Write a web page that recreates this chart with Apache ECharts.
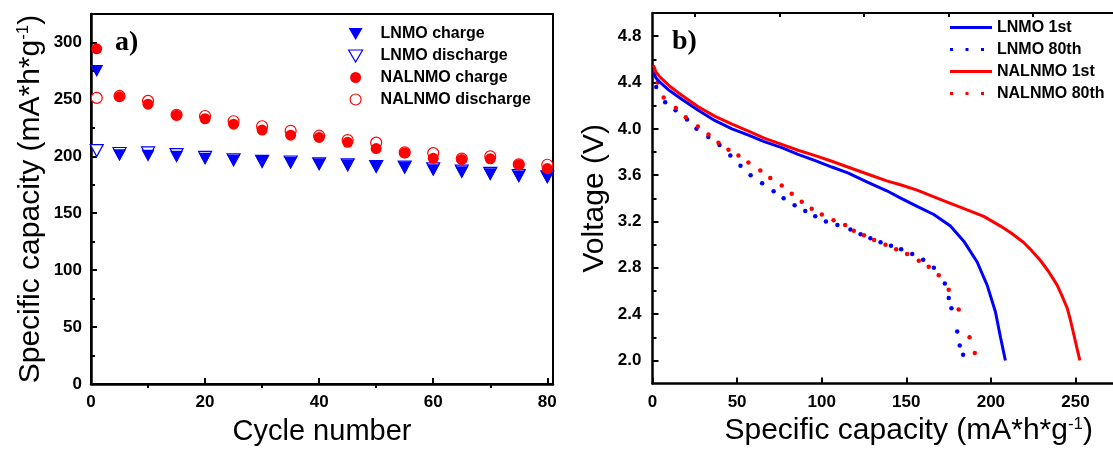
<!DOCTYPE html>
<html>
<head>
<meta charset="utf-8">
<script src="https://cdn.jsdelivr.net/npm/echarts@6/dist/echarts.min.js"></script>
<style>
html,body{margin:0;padding:0;background:#fff;}
#c{width:1113px;height:451px;}
</style>
</head>
<body>
<div id="c"></div>
<script>
// ---------- Panel a) cycling data ----------
const cycles = [1,5,10,15,20,25,30,35,40,45,50,55,60,65,70,75,80];
const lnmoCharge = [275,201,200.5,199.6,197.8,196.4,195,194.4,193,192,190.6,190,187.8,186,184.3,182.2,181.4];
const lnmoDischarge = [205,202.5,203,201.5,199,197,195.5,195,193.5,192.5,191,190.5,189,187,185,183,182];
const nalnmoCharge = [294.4,252.4,245.8,236,233,228.2,223,218.6,216.6,212.3,206.8,203,198.2,197.3,197.8,192.6,189.2];
const nalnmoDischarge = [251.3,253,248.7,236.5,235.4,230.8,226.4,222.4,218.1,214.3,212,203.5,202.8,198,200,193,192.6];

// ---------- Panel b) discharge curves ----------
const lnmo1Cap = [0.6,2,4.5,10,17.3,27,37,47,56.7,66,76.4,86,96.2,106,115.8,127,138.5,147,156.4,166.3,176.1,184,191.9,197.8,202.7,205.7,208.6];
const lnmo1V = [4.49,4.44,4.40,4.33,4.256,4.16,4.07,4.0,3.946,3.89,3.838,3.78,3.725,3.67,3.617,3.54,3.465,3.40,3.33,3.26,3.16,3.03,2.85,2.65,2.42,2.20,2.0];
const lnmo80Cap = [2.2,7.5,13.6,20.4,26,33,39.6,46,52,58,64.8,71.6,77.5,84,90.3,96.2,102.5,109.3,117,123,128.8,134.8,141,147,153.5,160,166.3,172.8,175.1,176.7,180.1,181.6,183.6];
const lnmo80V = [4.36,4.23,4.16,4.08,4.0,3.93,3.86,3.77,3.68,3.6,3.53,3.46,3.40,3.34,3.29,3.244,3.20,3.17,3.13,3.09,3.055,3.02,2.99,2.96,2.92,2.87,2.80,2.665,2.54,2.45,2.25,2.13,2.05];
const nalnmo1Cap = [0.6,2,4.5,10,17.3,27,37,47,56.7,66,76.4,86,96.2,106,115.8,127,138.5,147,156.4,166,176.1,186,195.8,205.7,212,219.4,224,229.3,234,239.2,242,245.1,247,249,251,252.6];
const nalnmo1V = [4.55,4.49,4.446,4.37,4.29,4.19,4.107,4.04,3.98,3.92,3.866,3.815,3.768,3.72,3.668,3.61,3.55,3.515,3.471,3.415,3.357,3.30,3.244,3.16,3.10,3.018,2.95,2.863,2.77,2.65,2.56,2.453,2.35,2.226,2.10,2.0];
const nalnmo80Cap = [3,6.6,13.8,19.7,26.8,33.1,39,44.9,50.8,56.7,63.7,69.6,76.4,82.3,88.2,94.1,100.1,107,113.9,119,125,131,137.7,144,150.5,157.4,163.3,169.2,175.1,181,187.4,190.5];
const nalnmo80V = [4.40,4.27,4.18,4.10,4.02,3.95,3.88,3.82,3.77,3.71,3.64,3.575,3.51,3.44,3.37,3.31,3.26,3.21,3.17,3.12,3.08,3.04,3.0,2.96,2.92,2.86,2.81,2.735,2.61,2.44,2.20,2.065];

// ---------- Tick values ----------
const aXMajor = [0,20,40,60,80];
const aXMinor = [10,30,50,70];
const aYMajor = [0,50,100,150,200,250,300];
const aYMinor = [25,75,125,175,225,275];
const bXMajor = [0,50,100,150,200,250];
const bXMinor = [25,75,125,175,225];
const bYMajor = [2.0,2.4,2.8,3.2,3.6,4.0,4.4,4.8];
const bYMinor = [2.2,2.6,3.0,3.4,3.8,4.2,4.6];

const zip = (xs, ys) => xs.map((x, i) => [x, ys[i]]);

const FONT = '"Liberation Sans", Arial, sans-serif';
const BLUE = '#0000ff', RED = '#ff0000';
const tickLabel = {fontFamily: FONT, fontWeight: 'bold', fontSize: 17, color: '#000'};
function nameStyle(size, extra) {
  return Object.assign({fontFamily: FONT, fontSize: size, color: '#000',
    rich: {sup: {fontFamily: FONT, fontSize: 17, color: '#000', padding: [0, 0, 14, 0]}}}, extra || {});
}
const lineSt = {color: '#000', width: 2.5};

function mainAxis(o) {
  return Object.assign({
    type: 'value', splitLine: {show: false},
    axisLine: {show: true, onZero: false, lineStyle: lineSt},
    axisTick: {show: true, inside: true, length: 6, lineStyle: {color: '#000', width: 2}, customValues: o.major},
    axisLabel: {show: true, customValues: o.major, margin: o.margin, formatter: o.fmt, ...tickLabel},
    nameLocation: 'middle'
  }, o.extra);
}
function minorAxis(o) {
  return Object.assign({
    type: 'value', splitLine: {show: false},
    axisLine: {show: false},
    axisTick: {show: true, inside: true, length: 4, lineStyle: {color: '#000', width: 2}, customValues: o.minor},
    axisLabel: {show: false}
  }, o.extra);
}

const chart = echarts.init(document.getElementById('c'), null, {renderer: 'canvas'});

const triDown = 'path://M0,0 M40,14 M13,1.5h14l-7,12z';
const circ = 'path://M0,0 M40,14 M25.5,7a5.5,5.5 0 1,0 -11,0a5.5,5.5 0 1,0 11,0z';
const solidIcon = 'path://M0,0 M42,14 M0,5.5h42v3h-42z';
const dotIcon = 'path://M0,0 M42,14 M0,5.5h3v3h-3z M15.5,5.5h3v3h-3z M31,5.5h3v3h-3z';

const B_MAX = 272.2;

chart.setOption({
  animation: false,
  backgroundColor: '#fff',
  grid: [
    {left: 91, top: 14, width: 462, height: 375, show: true, borderColor: '#000', borderWidth: 2, backgroundColor: 'transparent'},
    {left: 652.5, top: 13, width: 460.5, height: 377, show: false}
  ],
  xAxis: [
    mainAxis({major: aXMajor, margin: 10, fmt: v => String(v), extra: {gridIndex: 0, min: 0, max: 81,
      name: 'Cycle number', nameGap: 33, nameTextStyle: nameStyle(29)}}),
    minorAxis({minor: aXMinor, extra: {gridIndex: 0, min: 0, max: 81}}),
    mainAxis({major: bXMajor, margin: 10, fmt: v => String(v), extra: {gridIndex: 1, min: 0, max: B_MAX,
      name: 'Specific capacity (mA*h*g{sup|-1})', nameGap: 31,
      nameTextStyle: nameStyle(30, {padding: [0, 0, 0, 52]})}}),
    minorAxis({minor: bXMinor, extra: {gridIndex: 1, min: 0, max: B_MAX}}),
    {type: 'value', gridIndex: 1, position: 'top', min: 0, max: B_MAX, splitLine: {show: false},
     axisLine: {show: true, lineStyle: {color: '#000', width: 2}}, axisTick: {show: false}, axisLabel: {show: false}}
  ],
  yAxis: [
    mainAxis({major: aYMajor, margin: 9, fmt: v => String(v), extra: {gridIndex: 0, min: 0, max: 325,
      name: 'Specific capacity (mA*h*g{sup|-1})', nameGap: 45, nameTextStyle: nameStyle(30)}}),
    minorAxis({minor: aYMinor, extra: {gridIndex: 0, min: 0, max: 325, position: 'left'}}),
    mainAxis({major: bYMajor, margin: 11, fmt: v => v.toFixed(1), extra: {gridIndex: 1, min: 1.8, max: 5.0,
      name: 'Voltage (V)', nameGap: 43, nameTextStyle: nameStyle(30)}}),
    minorAxis({minor: bYMinor, extra: {gridIndex: 1, min: 1.8, max: 5.0, position: 'left'}})
  ],
  legend: [
    {orient: 'vertical', left: 335, top: 25.5, padding: 0, itemWidth: 40, itemHeight: 14, itemGap: 6,
     textStyle: {fontFamily: FONT, fontWeight: 'bold', fontSize: 16, lineHeight: 16, color: '#000'},
     data: [
       {name: 'LNMO charge', icon: triDown, itemStyle: {color: BLUE, borderWidth: 0, opacity: 1}},
       {name: 'LNMO discharge', icon: triDown, itemStyle: {color: 'rgba(0,0,0,0)', borderColor: BLUE, borderWidth: 1.2, opacity: 1}},
       {name: 'NALNMO charge', icon: circ, itemStyle: {color: RED, borderWidth: 0, opacity: 1}},
       {name: 'NALNMO discharge', icon: circ, itemStyle: {color: 'rgba(0,0,0,0)', borderColor: RED, borderWidth: 1.2, opacity: 1}}
     ]},
    {orient: 'vertical', left: 950, top: 19.5, padding: 0, itemWidth: 42, itemHeight: 14, itemGap: 6,
     textStyle: {fontFamily: FONT, fontWeight: 'bold', fontSize: 16, lineHeight: 16, color: '#000'},
     data: [
       {name: 'LNMO 1st', icon: solidIcon, itemStyle: {color: BLUE, borderWidth: 0, opacity: 1}},
       {name: 'LNMO 80th', icon: dotIcon, itemStyle: {color: BLUE, borderWidth: 0, opacity: 1}},
       {name: 'NALNMO 1st', icon: solidIcon, itemStyle: {color: RED, borderWidth: 0, opacity: 1}},
       {name: 'NALNMO 80th', icon: dotIcon, itemStyle: {color: RED, borderWidth: 0, opacity: 1}}
     ]}
  ],
  graphic: [
    {type: 'text', left: 115, top: 29, style: {text: 'a)', font: 'bold 28px "Liberation Serif", "Times New Roman", serif', fill: '#000'}},
    {type: 'text', left: 672, top: 28, style: {text: 'b)', font: 'bold 28px "Liberation Serif", "Times New Roman", serif', fill: '#000'}}
  ],
  series: [
    {type: 'scatter', name: 'LNMO charge', xAxisIndex: 0, yAxisIndex: 0, z: 4,
     data: zip(cycles, lnmoCharge), symbol: 'triangle', symbolRotate: 180, symbolSize: [13, 12],
     itemStyle: {color: BLUE, opacity: 1}},
    {type: 'scatter', name: 'LNMO discharge', xAxisIndex: 0, yAxisIndex: 0, z: 3,
     data: zip(cycles, lnmoDischarge), symbol: 'triangle', symbolRotate: 180, symbolSize: [13, 12],
     itemStyle: {color: '#fff', borderColor: BLUE, borderWidth: 1.2, opacity: 1}},
    {type: 'scatter', name: 'NALNMO charge', xAxisIndex: 0, yAxisIndex: 0, z: 4,
     data: zip(cycles, nalnmoCharge), symbol: 'circle', symbolSize: 11,
     itemStyle: {color: RED, opacity: 1}},
    {type: 'scatter', name: 'NALNMO discharge', xAxisIndex: 0, yAxisIndex: 0, z: 3,
     data: zip(cycles, nalnmoDischarge), symbol: 'circle', symbolSize: 11,
     itemStyle: {color: '#fff', borderColor: RED, borderWidth: 1.2, opacity: 1}},

    {type: 'line', name: 'LNMO 1st', xAxisIndex: 2, yAxisIndex: 2, showSymbol: false, symbol: 'none',
     data: zip(lnmo1Cap, lnmo1V), lineStyle: {color: BLUE, width: 3}, itemStyle: {color: BLUE}},
    {type: 'scatter', name: 'LNMO 80th', xAxisIndex: 2, yAxisIndex: 2, symbol: 'circle', symbolSize: 4.5,
     data: zip(lnmo80Cap, lnmo80V), itemStyle: {color: BLUE, opacity: 1}},
    {type: 'line', name: 'NALNMO 1st', xAxisIndex: 2, yAxisIndex: 2, showSymbol: false, symbol: 'none',
     data: zip(nalnmo1Cap, nalnmo1V), lineStyle: {color: RED, width: 3}, itemStyle: {color: RED}},
    {type: 'scatter', name: 'NALNMO 80th', xAxisIndex: 2, yAxisIndex: 2, symbol: 'circle', symbolSize: 4.5,
     data: zip(nalnmo80Cap, nalnmo80V), itemStyle: {color: RED, opacity: 1}}
  ]
});
</script>
</body>
</html>
